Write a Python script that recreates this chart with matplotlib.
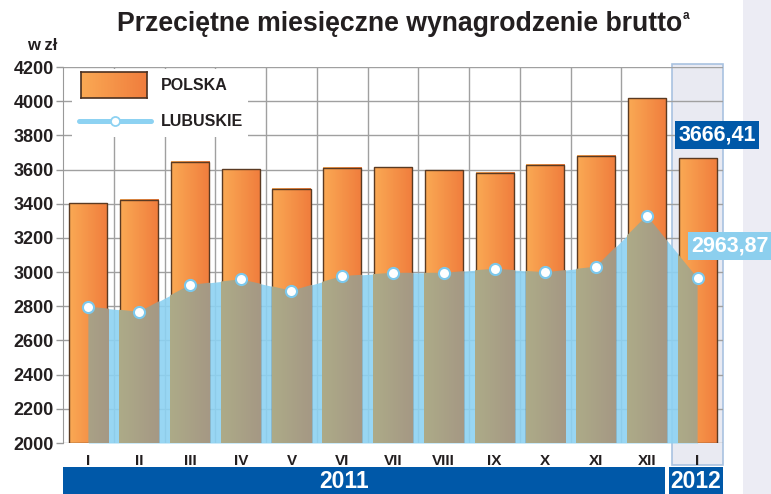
import matplotlib
matplotlib.use('Agg')
import matplotlib.pyplot as plt
import numpy as np
from matplotlib.patches import Rectangle
from matplotlib.lines import Line2D
from matplotlib.colors import LinearSegmentedColormap
from matplotlib import transforms

plt.rcParams['font.family'] = ['Liberation Sans', 'DejaVu Sans']

months = ['I', 'II', 'III', 'IV', 'V', 'VI', 'VII', 'VIII', 'IX', 'X', 'XI', 'XII', 'I']
polska = [3404, 3424, 3645, 3602, 3487, 3610, 3613, 3597, 3580, 3628, 3680, 4016, 3666.41]
lubuskie = [2798, 2768, 2925, 2958, 2891, 2977, 2996, 2996, 3020, 2999, 3032, 3331, 2963.87]
years = ['2011', '2012']
yticks = list(range(2000, 4201, 200))
label_polska = '3666,41'
label_lubuskie = '2963,87'

W, H = 771, 494
fig = plt.figure(figsize=(W / 100, H / 100), dpi=100)
fig.patch.set_facecolor('white')


def fx(p):
    return p / W


def fy(p):
    return 1 - p / H


TXT = '#231f20'
GRID = '#a0a0a0'
DBLUE = '#0058a8'
LBLUE = '#8dd2f2'

# right grey panel
fig.patches.append(Rectangle((fx(743), 0), fx(771) - fx(743), 1, transform=fig.transFigure,
                             facecolor='#ececf4', edgecolor='none', zorder=-5))

ax = fig.add_axes([fx(63), fy(443), fx(723) - fx(63), fy(67) - fy(443)])
ax.set_facecolor('none')
ax.set_axisbelow(True)

x = np.arange(len(months))
ax.set_xlim(-0.5, len(months) - 0.5)
ax.set_ylim(yticks[0], yticks[-1])

blend = transforms.blended_transform_factory(ax.transData, fig.transFigure)
# highlighted 2012 column
ax.add_patch(Rectangle((11.5, fy(465)), 1.0, fy(64) - fy(465), transform=blend,
                       facecolor='#e9eaf2', edgecolor='#a9c2e0', lw=1.2, zorder=0.1, clip_on=False))
# year bands
ax.add_patch(Rectangle((-0.5, 0), 11.86, fy(467), transform=blend, facecolor=DBLUE,
                       edgecolor='none', zorder=0.1, clip_on=False))
ax.add_patch(Rectangle((11.44, 0), 1.06, fy(467), transform=blend, facecolor=DBLUE,
                       edgecolor='none', zorder=0.1, clip_on=False))

# grid
ax.set_yticks(yticks)
ax.yaxis.grid(True, color=GRID, lw=1)
ax.set_xticks(np.arange(0.5, 11, 1), minor=True)
ax.xaxis.grid(True, which='minor', color=GRID, lw=1)
ax.set_xticks(x)
ax.set_xticklabels(months, fontweight='bold', fontsize=11, color=TXT)
ax.tick_params(axis='x', which='both', length=0, pad=8)
ax.tick_params(axis='y', length=5, width=1, color='#999999', pad=1.5, labelsize=13, labelcolor=TXT)
for lab in ax.get_yticklabels():
    lab.set_fontweight('bold')
for s in ['top', 'right', 'bottom']:
    ax.spines[s].set_visible(False)
ax.spines['left'].set_color('#999999')

# legend white box
ax.add_patch(Rectangle((0.0136, 0.814), 0.28 - 0.0136, 0.995 - 0.814, transform=ax.transAxes,
                       facecolor='white', edgecolor='none', zorder=1))

# LUBUSKIE area (behind bars)
area = ax.fill_between(x, yticks[0], lubuskie, color=LBLUE, alpha=0.9, lw=0, zorder=2)
apath = area.get_paths()[0]

# bars with gradient
grad = np.linspace(0, 1, 64).reshape(1, -1)
ocmap = LinearSegmentedColormap.from_list('o', ['#faa954', '#f07d3d'])
gcmap = LinearSegmentedColormap.from_list('g', ['#adab88', '#a59884'])
bars = ax.bar(x, np.array(polska) - yticks[0], bottom=yticks[0], width=0.75,
              facecolor='none', edgecolor='#5a3a22', lw=1, zorder=3.5)
for b in bars:
    x0 = b.get_x()
    x1 = x0 + b.get_width()
    y1 = b.get_y() + b.get_height()
    ax.imshow(grad, cmap=ocmap, extent=[x0, x1, yticks[0], y1], aspect='auto',
              zorder=3, interpolation='bilinear')
    im = ax.imshow(grad, cmap=gcmap, extent=[x0 - 0.015, x1 + 0.015, yticks[0], y1],
                   aspect='auto', zorder=4, interpolation='bilinear')
    im.set_clip_path(apath, transform=ax.transData)

ax.set_xlim(-0.5, len(months) - 0.5)
ax.set_ylim(yticks[0], yticks[-1])

ax.plot(x, lubuskie, 'o', ms=8, mfc='white', mec='#7cc8ec', mew=1.5, zorder=6, clip_on=False)

# legend glyphs
lax = fig.add_axes([fx(81), fy(98), fx(147) - fx(81), fy(72) - fy(98)])
lax.imshow(grad, cmap=ocmap, aspect='auto', interpolation='bilinear')
lax.set_xticks([])
lax.set_yticks([])
for s in lax.spines.values():
    s.set_color('#4a3020')
    s.set_linewidth(1.2)
fig.add_artist(Line2D([fx(79), fx(151)], [fy(121), fy(121)], transform=fig.transFigure,
                      color=LBLUE, lw=3.6, solid_capstyle='round'))
fig.add_artist(Line2D([fx(115)], [fy(121)], transform=fig.transFigure, marker='o', ms=6.5,
                      mfc='white', mec=LBLUE, mew=1.3, ls='none'))
fig.text(fx(161), fy(86), 'POLSKA', ha='left', va='center', fontsize=11.5, fontweight='bold', color=TXT)
fig.text(fx(161), fy(122), 'LUBUSKIE', ha='left', va='center', fontsize=11.5, fontweight='bold', color=TXT)

# title
fig.text(fx(400), fy(24), 'Przeciętne miesięczne wynagrodzenie brutto', ha='center', va='center',
         fontsize=19.2, fontweight='bold', color=TXT)
fig.text(fx(683), fy(16), 'a', ha='left', va='center', fontsize=8.5, fontweight='bold', color=TXT)
fig.text(fx(42), fy(45), 'w zł', ha='center', va='center', fontsize=12, fontweight='bold', color=TXT)

# value labels
fig.patches.append(Rectangle((fx(675), fy(149)), fx(759) - fx(675), fy(121) - fy(149),
                             transform=fig.transFigure, facecolor=DBLUE, edgecolor='none', zorder=5))
fig.text(fx(717), fy(135), label_polska, ha='center', va='center', fontsize=15.5, fontweight='bold',
         color='white', zorder=6)
fig.patches.append(Rectangle((fx(688), fy(260)), fx(771) - fx(688), fy(232) - fy(260),
                             transform=fig.transFigure, facecolor='#8ccfee', edgecolor='none', zorder=5))
fig.text(fx(730), fy(246), label_lubuskie, ha='center', va='center', fontsize=15.5, fontweight='bold',
         color='white', zorder=6)

# year labels
fig.text(fx(344), fy(481), years[0], ha='center', va='center', fontsize=16.5, fontweight='bold',
         color='white')
fig.text(fx(696), fy(481), years[1], ha='center', va='center', fontsize=16.5, fontweight='bold',
         color='white')

fig.savefig('out.png', dpi=100)
